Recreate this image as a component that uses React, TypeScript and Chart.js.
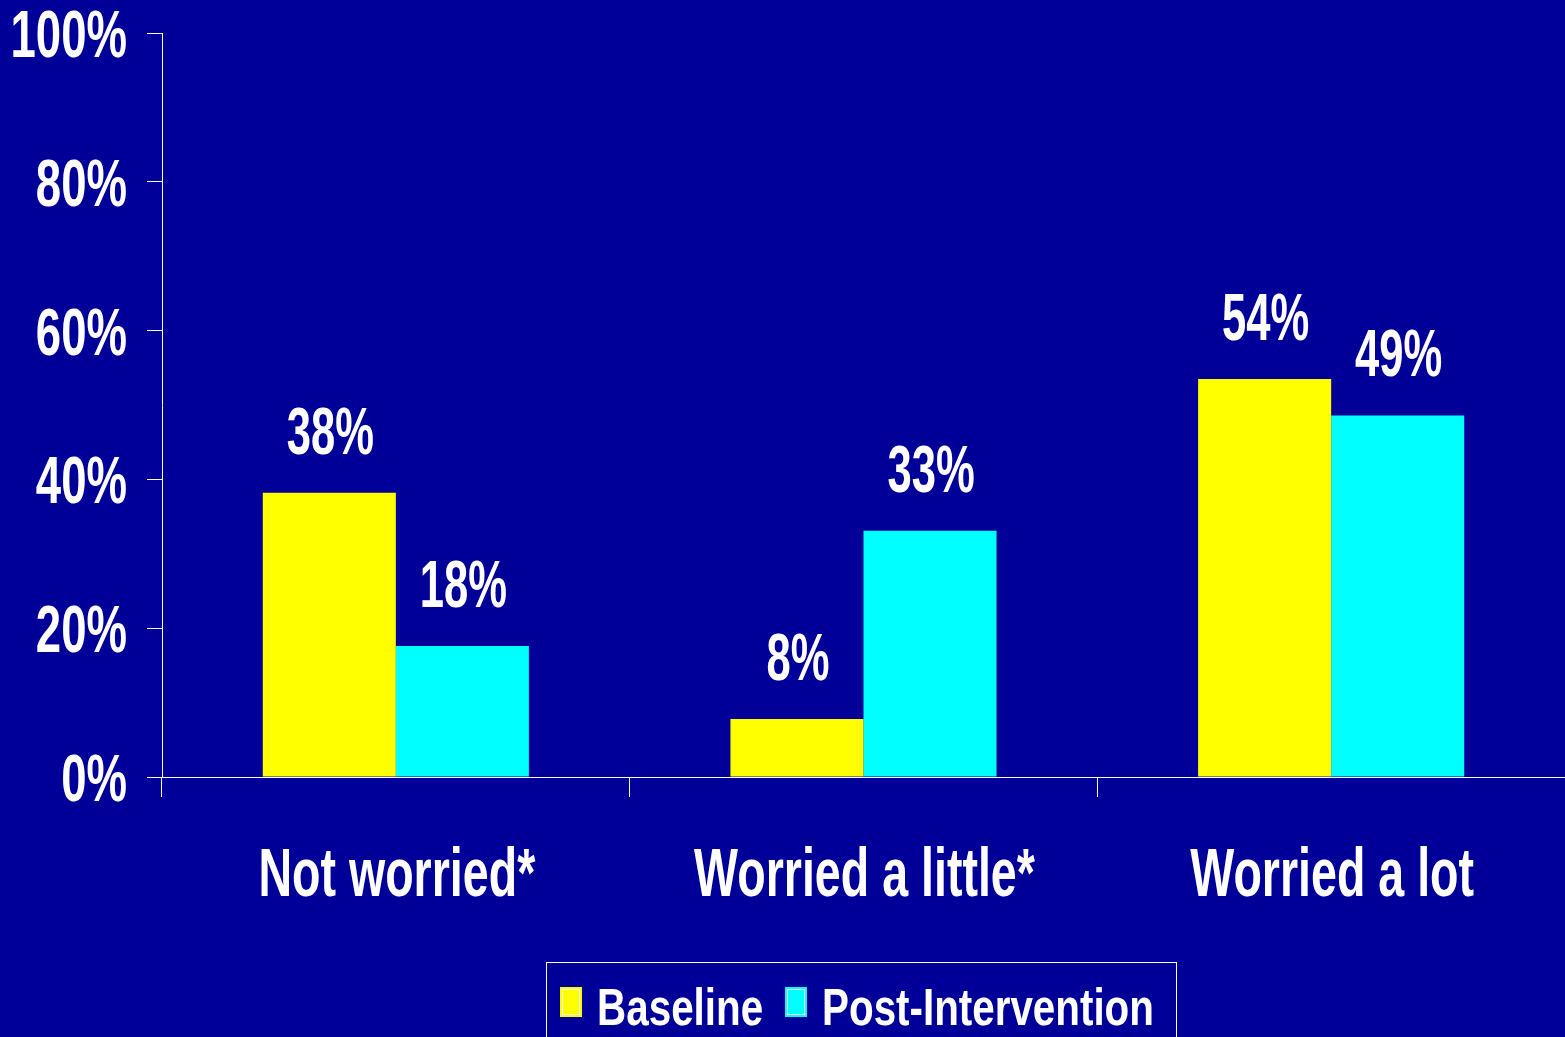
import React, { useEffect, useRef } from "react";
import { Chart, registerables } from "chart.js";

Chart.register(...registerables);

const categories = ["Not worried*", "Worried a little*", "Worried a lot"];
const seriesNames = ["Baseline", "Post-Intervention"];
const baselineValues = [38.2, 7.8, 53.5];
const postValues = [17.6, 33.1, 48.6];
const yTicks = [0, 20, 40, 60, 80, 100];

const BG = "#000099";
const YELLOW = "#ffff00";
const CYAN = "#00ffff";
const FONT = '"Liberation Sans", Arial, sans-serif';

function stretchText(
  ctx: CanvasRenderingContext2D,
  text: string,
  x: number,
  y: number,
  size: number,
  sx: number,
  align: CanvasTextAlign
) {
  ctx.save();
  ctx.font = `bold ${size}px ${FONT}`;
  ctx.fillStyle = "#ffffff";
  ctx.textBaseline = "alphabetic";
  ctx.textAlign = align;
  ctx.translate(x, y);
  ctx.scale(sx, 1);
  ctx.fillText(text, 0, 0);
  ctx.restore();
}

function textWidth(ctx: CanvasRenderingContext2D, text: string, size: number, sx: number) {
  ctx.save();
  ctx.font = `bold ${size}px ${FONT}`;
  const w = ctx.measureText(text).width * sx;
  ctx.restore();
  return w;
}

const labelsPlugin = {
  id: "customLabels",
  afterDraw(chart: any) {
    const ctx: CanvasRenderingContext2D = chart.ctx;
    const ys = chart.scales.y;
    const xs = chart.scales.x;
    // y tick labels
    yTicks.forEach((v) => {
      stretchText(ctx, `${v}%`, 127, ys.getPixelForValue(v) + 24, 67, 0.68, "right");
    });
    // category labels
    categories.forEach((c, i) => {
      stretchText(ctx, c, xs.getPixelForValue(i) + 1, 896, 68, 0.685, "center");
    });
    // data labels
    chart.data.datasets.forEach((ds: any, di: number) => {
      const meta = chart.getDatasetMeta(di);
      meta.data.forEach((el: any, i: number) => {
        const v = ds.data[i] as number;
        stretchText(ctx, `${Math.round(v)}%`, el.x + 1, el.y - 39, 66, 0.66, "center");
      });
    });
    // legend
    const size = 52;
    const sx = 0.776;
    const swW = 22;
    const swH = 30;
    const gapText = 15;
    const gapItem = 22;
    const padL = 14;
    const padR = 22;
    const items = chart.data.datasets.map((ds: any) => ({
      label: ds.label as string,
      color: ds.backgroundColor as string,
      w: textWidth(ctx, ds.label, size, sx),
    }));
    let contentW = 0;
    items.forEach((it: any, i: number) => {
      contentW += swW + gapText + it.w + (i < items.length - 1 ? gapItem : 0);
    });
    const boxW = contentW + padL + padR;
    const center = 861;
    const boxLeft = center - boxW / 2;
    const boxTop = 962;
    ctx.save();
    ctx.strokeStyle = "#ffffff";
    ctx.lineWidth = 1;
    ctx.strokeRect(Math.round(boxLeft) + 0.5, boxTop + 0.5, Math.round(boxW), 200);
    ctx.restore();
    let x = boxLeft + padL;
    items.forEach((it: any) => {
      ctx.save();
      ctx.fillStyle = it.color;
      ctx.fillRect(Math.round(x), 987, swW, swH);
      ctx.strokeStyle = "#ffffff";
      ctx.lineWidth = 1;
      ctx.strokeRect(Math.round(x) + 2.5, 989.5, swW - 5, swH - 5);
      ctx.restore();
      x += swW + gapText;
      stretchText(ctx, it.label, x, 1025, size, sx, "left");
      x += it.w + gapItem;
    });
  },
};

export default function App() {
  const ref = useRef<HTMLCanvasElement | null>(null);

  useEffect(() => {
    if (!ref.current) return;
    const chart = new Chart(ref.current, {
      type: "bar",
      data: {
        labels: categories,
        datasets: [
          {
            label: seriesNames[0],
            data: baselineValues,
            backgroundColor: YELLOW,
            borderWidth: 0,
            categoryPercentage: 0.569,
            barPercentage: 1,
          },
          {
            label: seriesNames[1],
            data: postValues,
            backgroundColor: CYAN,
            borderWidth: 0,
            categoryPercentage: 0.569,
            barPercentage: 1,
          },
        ],
      },
      options: {
        animation: false,
        responsive: true,
        maintainAspectRatio: false,
        layout: { padding: { top: 33, right: 0, bottom: 0, left: 0 } },
        plugins: {
          legend: { display: false },
          tooltip: { enabled: false },
          title: { display: false },
        },
        scales: {
          x: {
            type: "category",
            ticks: { display: false },
            grid: {
              display: true,
              drawOnChartArea: false,
              drawTicks: true,
              tickLength: 20,
              color: "#ffffff",
              lineWidth: 1,
              offset: true,
            },
            border: { display: true, color: "#ffffff", width: 1 },
            afterFit: (s: any) => {
              s.height = 260;
            },
          },
          y: {
            min: 0,
            max: 100,
            ticks: { display: false, stepSize: 20 },
            grid: {
              display: true,
              drawOnChartArea: false,
              drawTicks: true,
              tickLength: 15,
              color: "#ffffff",
              lineWidth: 1,
            },
            border: { display: true, color: "#ffffff", width: 1 },
            afterFit: (s: any) => {
              s.width = 162;
            },
          },
        },
      },
      plugins: [labelsPlugin],
    });
    return () => chart.destroy();
  }, []);

  return (
    <div
      style={{
        position: "fixed",
        left: 0,
        top: 0,
        width: "100vw",
        height: "100vh",
        background: BG,
      }}
    >
      <canvas ref={ref} />
    </div>
  );
}
